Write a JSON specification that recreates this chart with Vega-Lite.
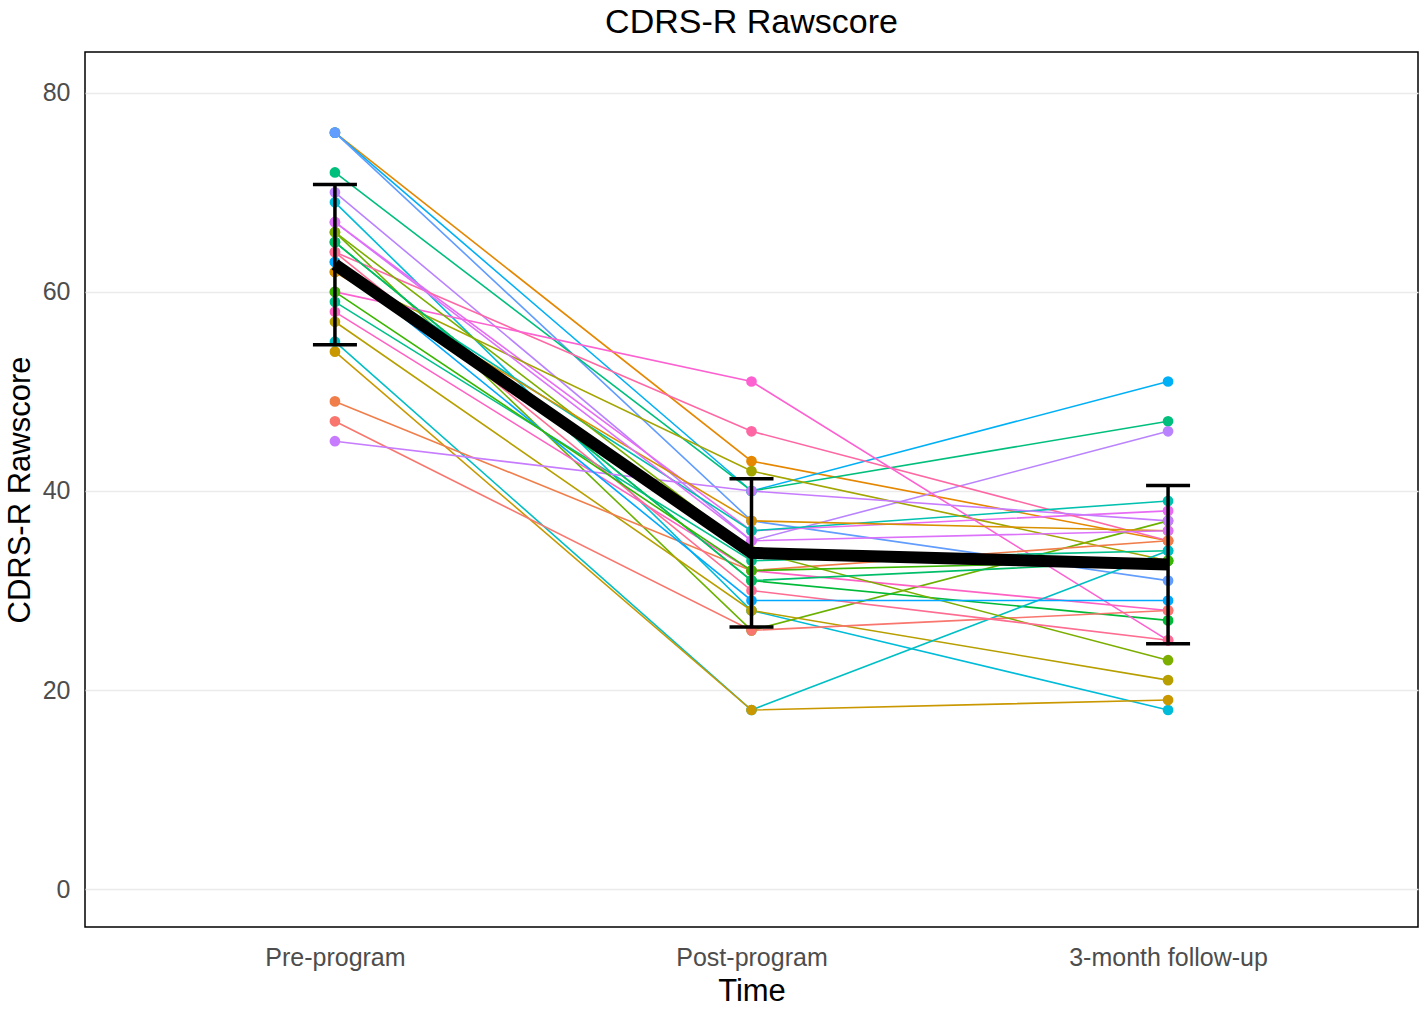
{
  "$schema": "https://vega.github.io/schema/vega-lite/v6.json",
  "autosize": "none",
  "width": 1333,
  "height": 875,
  "padding": {"left": 85, "top": 52, "right": 7, "bottom": 83},
  "background": "white",
  "config": {
    "font": "Liberation Sans",
    "view": {"stroke": "black", "strokeWidth": 1.5},
    "axis": {"labelFont": "Liberation Sans", "titleFont": "Liberation Sans", "titleFontWeight": "normal", "titleColor": "black", "labelColor": "#4D4D4D", "labelFontSize": 25, "titleFontSize": 31, "domain": false, "ticks": false, "labelLimit": 0}
  },
  "title": {"text": "CDRS-R Rawscore", "fontSize": 34, "fontWeight": "normal", "color": "black", "font": "Liberation Sans", "offset": 12, "anchor": "middle"},
  "data": {"values": [
    {"subject": "S01", "time": "Pre-program", "score": 76}, {"subject": "S01", "time": "Post-program", "score": 43}, {"subject": "S01", "time": "3-month follow-up", "score": 35},
    {"subject": "S02", "time": "Pre-program", "score": 76}, {"subject": "S02", "time": "Post-program", "score": 40}, {"subject": "S02", "time": "3-month follow-up", "score": 51},
    {"subject": "S03", "time": "Pre-program", "score": 76}, {"subject": "S03", "time": "Post-program", "score": 37}, {"subject": "S03", "time": "3-month follow-up", "score": 31},
    {"subject": "S04", "time": "Pre-program", "score": 72}, {"subject": "S04", "time": "Post-program", "score": 40}, {"subject": "S04", "time": "3-month follow-up", "score": 47},
    {"subject": "S05", "time": "Pre-program", "score": 70}, {"subject": "S05", "time": "Post-program", "score": 35}, {"subject": "S05", "time": "3-month follow-up", "score": 46},
    {"subject": "S06", "time": "Pre-program", "score": 69}, {"subject": "S06", "time": "Post-program", "score": 28}, {"subject": "S06", "time": "3-month follow-up", "score": 18},
    {"subject": "S07", "time": "Pre-program", "score": 67}, {"subject": "S07", "time": "Post-program", "score": 36}, {"subject": "S07", "time": "3-month follow-up", "score": 38},
    {"subject": "S08", "time": "Pre-program", "score": 66}, {"subject": "S08", "time": "Post-program", "score": 26}, {"subject": "S08", "time": "3-month follow-up", "score": 37},
    {"subject": "S09", "time": "Pre-program", "score": 65}, {"subject": "S09", "time": "Post-program", "score": 31}, {"subject": "S09", "time": "3-month follow-up", "score": 27},
    {"subject": "S10", "time": "Pre-program", "score": 64}, {"subject": "S10", "time": "Post-program", "score": 46}, {"subject": "S10", "time": "3-month follow-up", "score": 35},
    {"subject": "S11", "time": "Pre-program", "score": 63}, {"subject": "S11", "time": "Post-program", "score": 36}, {"subject": "S11", "time": "3-month follow-up", "score": 39},
    {"subject": "S12", "time": "Pre-program", "score": 62}, {"subject": "S12", "time": "Post-program", "score": 42}, {"subject": "S12", "time": "3-month follow-up", "score": 33},
    {"subject": "S13", "time": "Pre-program", "score": 60}, {"subject": "S13", "time": "Post-program", "score": 51}, {"subject": "S13", "time": "3-month follow-up", "score": 25},
    {"subject": "S14", "time": "Pre-program", "score": 59}, {"subject": "S14", "time": "Post-program", "score": 33}, {"subject": "S14", "time": "3-month follow-up", "score": 34},
    {"subject": "S15", "time": "Pre-program", "score": 58}, {"subject": "S15", "time": "Post-program", "score": 32}, {"subject": "S15", "time": "3-month follow-up", "score": 28},
    {"subject": "S16", "time": "Pre-program", "score": 57}, {"subject": "S16", "time": "Post-program", "score": 28}, {"subject": "S16", "time": "3-month follow-up", "score": 21},
    {"subject": "S17", "time": "Pre-program", "score": 55}, {"subject": "S17", "time": "Post-program", "score": 18}, {"subject": "S17", "time": "3-month follow-up", "score": 34},
    {"subject": "S18", "time": "Pre-program", "score": 54}, {"subject": "S18", "time": "Post-program", "score": 18}, {"subject": "S18", "time": "3-month follow-up", "score": 19},
    {"subject": "S19", "time": "Pre-program", "score": 49}, {"subject": "S19", "time": "Post-program", "score": 32}, {"subject": "S19", "time": "3-month follow-up", "score": 35},
    {"subject": "S20", "time": "Pre-program", "score": 47}, {"subject": "S20", "time": "Post-program", "score": 26}, {"subject": "S20", "time": "3-month follow-up", "score": 28},
    {"subject": "S21", "time": "Pre-program", "score": 45}, {"subject": "S21", "time": "Post-program", "score": 40}, {"subject": "S21", "time": "3-month follow-up", "score": 37},
    {"subject": "S22", "time": "Pre-program", "score": 66}, {"subject": "S22", "time": "Post-program", "score": 34}, {"subject": "S22", "time": "3-month follow-up", "score": 23},
    {"subject": "S23", "time": "Pre-program", "score": 64}, {"subject": "S23", "time": "Post-program", "score": 30}, {"subject": "S23", "time": "3-month follow-up", "score": 25},
    {"subject": "S24", "time": "Pre-program", "score": 62}, {"subject": "S24", "time": "Post-program", "score": 37}, {"subject": "S24", "time": "3-month follow-up", "score": 36},
    {"subject": "S25", "time": "Pre-program", "score": 63}, {"subject": "S25", "time": "Post-program", "score": 29}, {"subject": "S25", "time": "3-month follow-up", "score": 29},
    {"subject": "S26", "time": "Pre-program", "score": 67}, {"subject": "S26", "time": "Post-program", "score": 35}, {"subject": "S26", "time": "3-month follow-up", "score": 36},
    {"subject": "S27", "time": "Pre-program", "score": 65}, {"subject": "S27", "time": "Post-program", "score": 31}, {"subject": "S27", "time": "3-month follow-up", "score": 33},
    {"subject": "S28", "time": "Pre-program", "score": 60}, {"subject": "S28", "time": "Post-program", "score": 32}, {"subject": "S28", "time": "3-month follow-up", "score": 33}
  ]},
  "encoding": {
    "x": {"field": "time", "type": "nominal", "sort": ["Pre-program", "Post-program", "3-month follow-up"],
      "scale": {"type": "point", "padding": 0.6},
      "axis": {"title": "Time", "labelAngle": 0, "labelPadding": 18, "titlePadding": 6, "grid": false}},
    "y": {"field": "score", "type": "quantitative",
      "scale": {"domain": [-3.8, 84.1], "nice": false, "zero": false},
      "axis": {"title": "CDRS-R Rawscore", "values": [0, 20, 40, 60, 80], "grid": true, "gridColor": "#EBEBEB", "gridWidth": 1.5, "labelPadding": 15, "titlePadding": 6}}
  },
  "layer": [
    {
      "mark": {"type": "line", "strokeWidth": 1.6},
      "encoding": {
        "color": {"field": "subject", "type": "nominal", "legend": null,
          "scale": {"domain": ["S01","S02","S03","S04","S05","S06","S07","S08","S09","S10","S11","S12","S13","S14","S15","S16","S17","S18","S19","S20","S21","S22","S23","S24","S25","S26","S27","S28"],
            "range": ["#E58700","#00B0F6","#619CFF","#00BF7D","#B983FF","#00BCD8","#E76BF3","#6BB100","#00BA38","#FF67A4","#00C0AF","#A3A500","#FD61D1","#00C08B","#FF61C3","#B79F00","#00BFC4","#C99800","#F07E4B","#F8766D","#C77CFF","#7CAE00","#FF6C91","#D89000","#00A9FF","#DC71FA","#00BE67","#39B600"]}}
      }
    },
    {
      "mark": {"type": "point", "filled": true, "size": 115, "opacity": 1},
      "encoding": {
        "color": {"field": "subject", "type": "nominal", "legend": null}
      }
    },
    {
      "mark": {"type": "errorbar", "extent": "stdev", "color": "black", "opacity": 1, "thickness": 3.5, "rule": {"color": "black", "opacity": 1, "strokeWidth": 3.5}, "ticks": {"size": 44, "thickness": 3.5, "color": "black", "opacity": 1}},
      "encoding": {
        "y": {"field": "score", "type": "quantitative"}
      }
    },
    {
      "mark": {"type": "line", "color": "black", "strokeWidth": 12, "strokeCap": "butt"},
      "encoding": {
        "y": {"field": "score", "type": "quantitative", "aggregate": "mean"}
      }
    }
  ]
}
